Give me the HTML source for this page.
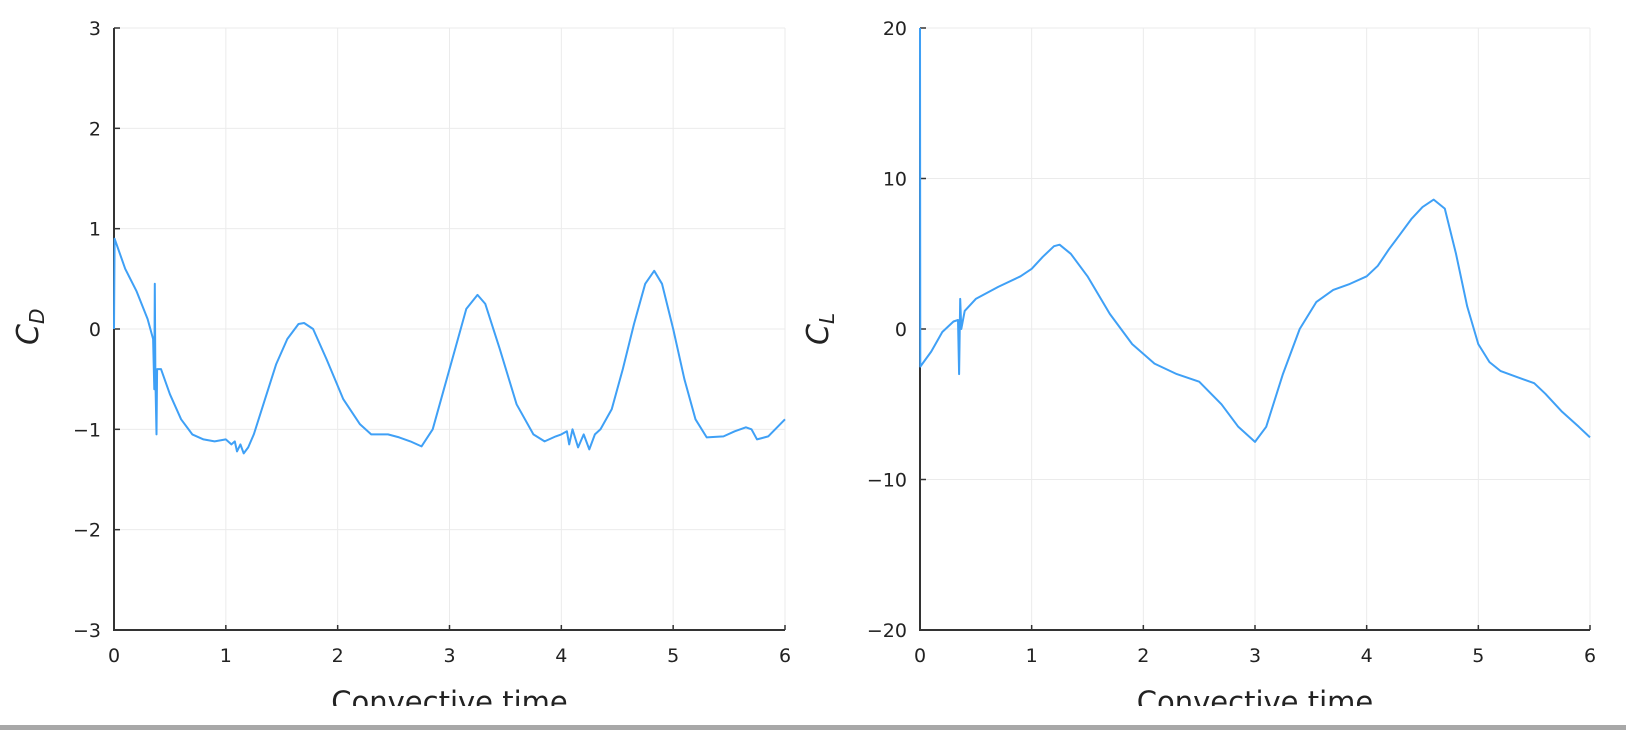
<!DOCTYPE html>
<html><head><meta charset="utf-8"><style>
body{margin:0;background:#fff;width:1626px;height:730px;overflow:hidden;font-family:"Liberation Sans","DejaVu Sans",sans-serif}
svg text{font-family:"DejaVu Sans","Liberation Sans",sans-serif;fill:#222}
</style></head><body>
<svg id="chart" width="1626" height="730" xmlns="http://www.w3.org/2000/svg">
<defs><clipPath id="clipAll"><rect x="0" y="0" width="1626" height="706"/></clipPath></defs>
<g id="root" clip-path="url(#clipAll)"></g>
<rect x="0" y="725" width="1626" height="5" fill="#a8a8a8"/>
</svg>
<script>
const cdTime=[0,0.005,0.1,0.2,0.3,0.35,0.36,0.365,0.37,0.38,0.385,0.42,0.5,0.6,0.7,0.8,0.9,1.0,1.05,1.08,1.1,1.13,1.16,1.2,1.25,1.35,1.45,1.55,1.65,1.7,1.78,1.9,2.05,2.2,2.3,2.45,2.55,2.65,2.75,2.85,2.95,3.05,3.15,3.25,3.32,3.45,3.6,3.75,3.85,3.95,4.0,4.05,4.07,4.1,4.15,4.2,4.25,4.3,4.35,4.45,4.55,4.65,4.75,4.83,4.9,5.0,5.1,5.2,5.3,5.45,5.55,5.65,5.7,5.75,5.85,6.0];
const cdValues=[0,0.9,0.6,0.38,0.1,-0.1,-0.6,0.45,-0.5,-1.05,-0.4,-0.4,-0.65,-0.9,-1.05,-1.1,-1.12,-1.1,-1.15,-1.12,-1.22,-1.15,-1.24,-1.18,-1.05,-0.7,-0.35,-0.1,0.05,0.06,0,-0.3,-0.7,-0.95,-1.05,-1.05,-1.08,-1.12,-1.17,-1.0,-0.6,-0.2,0.2,0.34,0.25,-0.2,-0.75,-1.05,-1.12,-1.07,-1.05,-1.02,-1.15,-1.0,-1.18,-1.05,-1.2,-1.05,-1.0,-0.8,-0.4,0.05,0.45,0.58,0.45,0,-0.5,-0.9,-1.08,-1.07,-1.02,-0.98,-1.0,-1.1,-1.07,-0.9];
const clTime=[0,0.003,0.1,0.2,0.3,0.34,0.35,0.36,0.37,0.4,0.5,0.7,0.9,1.0,1.1,1.2,1.25,1.35,1.5,1.7,1.9,2.1,2.3,2.5,2.7,2.85,3.0,3.1,3.25,3.4,3.55,3.7,3.85,4.0,4.1,4.2,4.3,4.4,4.5,4.6,4.7,4.8,4.9,5.0,5.1,5.2,5.35,5.5,5.6,5.75,5.9,6.0];
const clValues=[20,-2.5,-1.5,-0.2,0.5,0.6,-3,2,0,1.2,2,2.8,3.5,4,4.8,5.5,5.6,5,3.5,1,-1,-2.3,-3,-3.5,-5,-6.5,-7.5,-6.5,-3,0,1.8,2.6,3,3.5,4.2,5.3,6.3,7.3,8.1,8.6,8,5,1.5,-1,-2.2,-2.8,-3.2,-3.6,-4.3,-5.5,-6.5,-7.2];
const xTicks=[0,1,2,3,4,5,6];
const cdTicks=[-3,-2,-1,0,1,2,3];
const clTicks=[-20,-10,0,10,20];
const tickLabel=v=>v<0?'\u2212'+(-v):String(v);

const NS='http://www.w3.org/2000/svg';
const root=document.getElementById('root');
function mk(tag,attrs,parent){const e=document.createElementNS(NS,tag);for(const k in attrs)e.setAttribute(k,attrs[k]);(parent||root).appendChild(e);return e;}

function panel(name,x0,x1,y0,y1,ymin,ymax,yTicks,times,vals,ylab,sub,ylabX){
  const g=mk('g',{});
  
  
  const sx=t=>x0+(t-0)/6*(x1-x0);
  const sy=v=>y1-(v-ymin)/(ymax-ymin)*(y1-y0);
  xTicks.forEach(t=>{
    const l=mk('line',{x1:sx(t),x2:sx(t),y1:y0,y2:y1,stroke:'#ebebeb','stroke-width':1},g);
    
    
    const tk=mk('line',{x1:sx(t),x2:sx(t),y1:y1,y2:y1-5,stroke:'#333','stroke-width':1.5},g);
    
    
    const tx=mk('text',{x:sx(t),y:y1+32,'text-anchor':'middle','font-size':19},g);
    tx.textContent=tickLabel(t);
    
    
  });
  yTicks.forEach(v=>{
    const l=mk('line',{x1:x0,x2:x1,y1:sy(v),y2:sy(v),stroke:'#ebebeb','stroke-width':1},g);
    
    
    const tk=mk('line',{x1:x0,x2:x0+6,y1:sy(v),y2:sy(v),stroke:'#333','stroke-width':1.5},g);
    
    
    const tx=mk('text',{x:x0-13,y:sy(v)+7,'text-anchor':'end','font-size':19},g);
    tx.textContent=tickLabel(v);
    
    
  });
  const ax=mk('path',{d:`M${x0},${y0}V${y1}H${x1}`,fill:'none',stroke:'#333','stroke-width':2},g);
  
  
  const d=times.map((t,i)=>(i?'L':'M')+sx(t).toFixed(1)+','+sy(vals[i]).toFixed(1)).join('');
  const p=mk('path',{d:d,fill:'none',stroke:'#3fa0f6','stroke-width':2,'stroke-linejoin':'round'},g);
  
  
  const xl=mk('text',{x:(x0+x1)/2,y:y1+82,'text-anchor':'middle','font-size':29},g);
  xl.textContent='Convective time';
  
  
  const yl=mk('text',{x:0,y:0,'font-size':30,'font-style':'italic','font-family':'Liberation Serif, serif',transform:`translate(${ylabX},${(y0+y1)/2+16}) rotate(-90)`},g);
  yl.innerHTML='C<tspan font-size="20" dy="6">'+sub+'</tspan>';
  
  
}
panel('drag-coefficient',114,785,28,630,-3,3,cdTicks,cdTime,cdValues,'C','D',38);
panel('lift-coefficient',920,1590,28,630,-20,20,clTicks,clTime,clValues,'C','L',828);
</script>
</body></html>
